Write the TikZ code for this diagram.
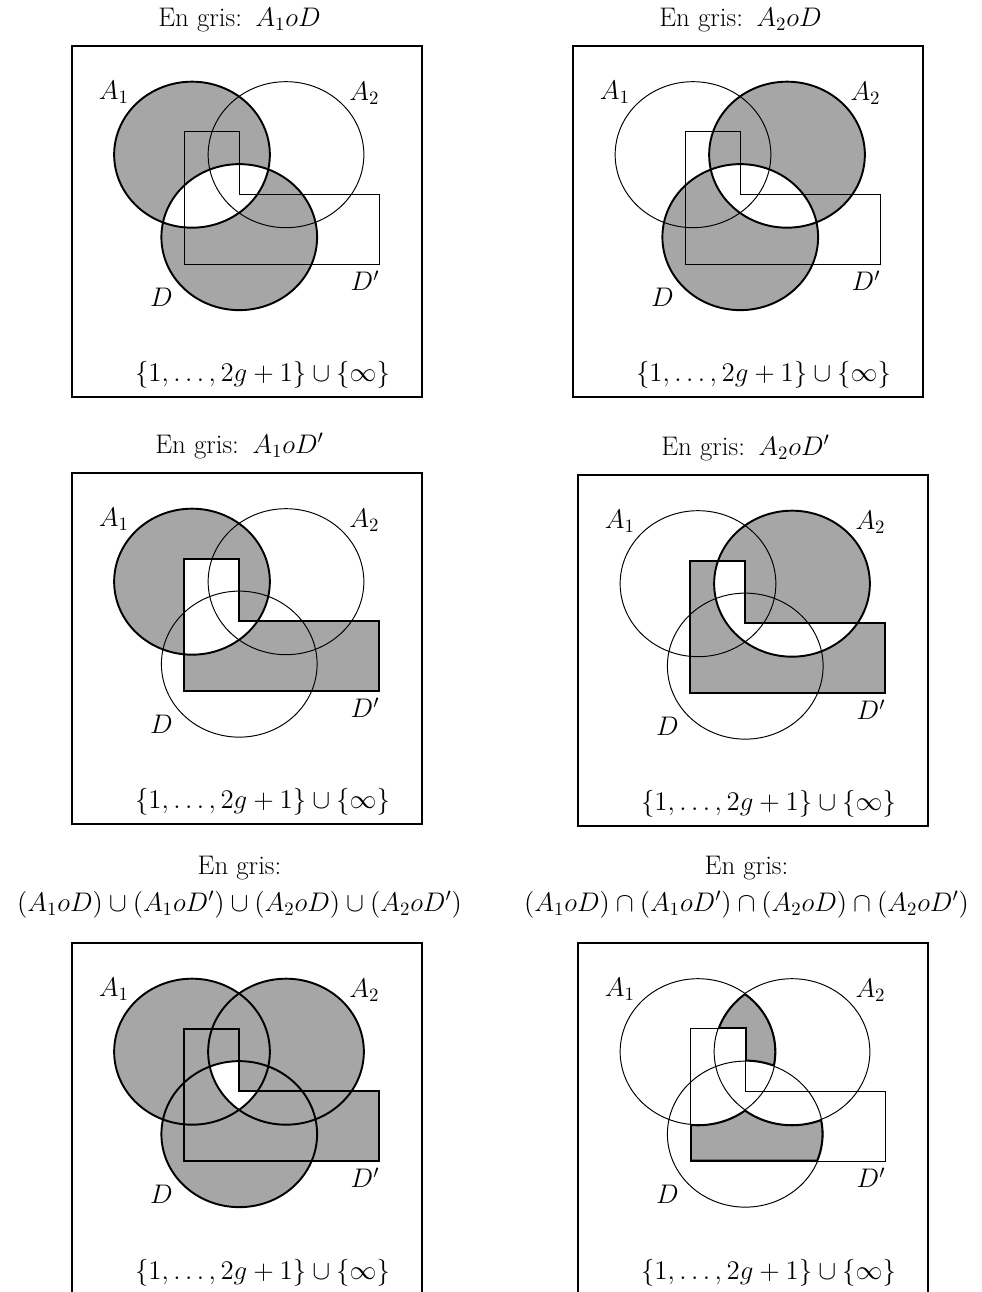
\RequirePackage{fix-cm}
\documentclass[tikz,border=0pt]{standalone}
\usepackage{amsmath}
\usepackage{tikz}
\usetikzlibrary{calc}
\definecolor{shadegray}{HTML}{A6A6A6}
\definecolor{linegray}{HTML}{000000}
\tikzset{
  panelframe/.style={draw=linegray, line width=0.7pt},
  setline/.style={draw=linegray, line width=0.55pt},
  boundline/.style={draw=linegray, line width=1.1pt},
  bandline/.style={draw=linegray, line width=1.8pt},
  grayfill/.style={fill=shadegray},
  lbl/.style={font=\fontsize{15.3}{18.5}\selectfont, inner sep=0pt, anchor=base},
  headtwo/.style={font=\fontsize{15.3}{18.5}\selectfont, inner sep=0pt, anchor=south, align=center}
}
% the four sets, in panel coordinates
\newcommand{\setAone}{(2.40,4.846) ellipse [x radius=1.557, y radius=1.46]}
\newcommand{\setAtwo}{(4.28,4.846) ellipse [x radius=1.557, y radius=1.46]}
\newcommand{\setD}{(3.345,3.197) ellipse [x radius=1.557, y radius=1.46]}
\newcommand{\setDp}{(2.245,5.306) -- (3.345,5.306) -- (3.345,4.054) -- (6.146,4.054) -- (6.146,2.654) -- (2.245,2.654) -- cycle}

\begin{document}
\begin{tikzpicture}[x=1cm,y=1cm]
  \path[use as bounding box] (0,0) rectangle (19.64,25.84);

  % panel 1: A1 o D
  \begin{scope}[shift={(1.44,17.90)}]
    \fill[grayfill, even odd rule] \setAone \setD;
    \draw[setline] \setAtwo;
    \draw[setline] \setDp;
    \draw[boundline] \setAone;
    \draw[boundline] \setD;
    \draw[panelframe] (0,0) rectangle (7,7.02);
    \node[lbl] (p1head) at (3.35,7.41) {En gris:\enspace $A_1oD$};
    \node[lbl] (p1a1) at (0.84,5.95) {$A_1$};
    \node[lbl] (p1a2) at (5.85,5.93) {$A_2$};
    \node[lbl] (p1d) at (1.79,1.81) {$D$};
    \node[lbl] (p1dp) at (5.86,2.12) {$D'$};
    \node[lbl] (p1all) at (3.81,0.30) {$\{1,\ldots,2g+1\}\cup\{\infty\}$};
  \end{scope}

  % panel 2: A2 o D
  \begin{scope}[shift={(11.46,17.90)}]
    \fill[grayfill, even odd rule] \setAtwo \setD;
    \draw[setline] \setAone;
    \draw[setline] \setDp;
    \draw[boundline] \setAtwo;
    \draw[boundline] \setD;
    \draw[panelframe] (0,0) rectangle (7,7.02);
    \node[lbl] (p2head) at (3.35,7.41) {En gris:\enspace $A_2oD$};
    \node[lbl] (p2a1) at (0.84,5.95) {$A_1$};
    \node[lbl] (p2a2) at (5.85,5.93) {$A_2$};
    \node[lbl] (p2d) at (1.79,1.81) {$D$};
    \node[lbl] (p2dp) at (5.86,2.12) {$D'$};
    \node[lbl] (p2all) at (3.81,0.30) {$\{1,\ldots,2g+1\}\cup\{\infty\}$};
  \end{scope}

  % panel 3: A1 o D'
  \begin{scope}[shift={(1.44,9.36)}]
    \fill[grayfill, even odd rule] \setAone \setDp;
    \draw[setline] \setAtwo;
    \draw[setline] \setD;
    \draw[boundline] \setAone;
    \draw[boundline] \setDp;
    \draw[panelframe] (0,0) rectangle (7,7.02);
    \node[lbl] (p3head) at (3.35,7.41) {En gris:\enspace $A_1oD'$};
    \node[lbl] (p3a1) at (0.84,5.95) {$A_1$};
    \node[lbl] (p3a2) at (5.85,5.93) {$A_2$};
    \node[lbl] (p3d) at (1.79,1.81) {$D$};
    \node[lbl] (p3dp) at (5.86,2.12) {$D'$};
    \node[lbl] (p3all) at (3.81,0.30) {$\{1,\ldots,2g+1\}\cup\{\infty\}$};
  \end{scope}

  % panel 4: A2 o D'
  \begin{scope}[shift={(11.56,9.32)}]
    \fill[grayfill, even odd rule] \setAtwo \setDp;
    \draw[setline] \setAone;
    \draw[setline] \setD;
    \draw[boundline] \setAtwo;
    \draw[boundline] \setDp;
    \draw[panelframe] (0,0) rectangle (7,7.02);
    \node[lbl] (p4head) at (3.35,7.41) {En gris:\enspace $A_2oD'$};
    \node[lbl] (p4a1) at (0.84,5.95) {$A_1$};
    \node[lbl] (p4a2) at (5.85,5.93) {$A_2$};
    \node[lbl] (p4d) at (1.79,1.81) {$D$};
    \node[lbl] (p4dp) at (5.86,2.12) {$D'$};
    \node[lbl] (p4all) at (3.81,0.30) {$\{1,\ldots,2g+1\}\cup\{\infty\}$};
  \end{scope}

  % panel 5: union
  \begin{scope}[shift={(1.44,-0.04)}]
    \fill[grayfill] \setAone;
    \fill[grayfill] \setAtwo;
    \fill[grayfill] \setD;
    \fill[grayfill] \setDp;
    \begin{scope}
      \clip \setAone; \clip \setAtwo; \clip \setD; \clip \setDp;
      \fill[white] (0,0) rectangle (7,7);
    \end{scope}
    \draw[boundline] \setAone;
    \draw[boundline] \setAtwo;
    \draw[boundline] \setD;
    \draw[boundline] \setDp;
    \draw[panelframe] (0,0) rectangle (7,7.02);
    \node[headtwo] (p5head) at (3.35,7.51)
      {En gris:\\[2.5pt]$(A_1oD)\cup(A_1oD')\cup(A_2oD)\cup(A_2oD')$};
    \node[lbl] (p5a1) at (0.84,5.95) {$A_1$};
    \node[lbl] (p5a2) at (5.85,5.93) {$A_2$};
    \node[lbl] (p5d) at (1.79,1.81) {$D$};
    \node[lbl] (p5dp) at (5.86,2.12) {$D'$};
    \node[lbl] (p5all) at (3.81,0.30) {$\{1,\ldots,2g+1\}\cup\{\infty\}$};
  \end{scope}

  % panel 6: intersection
  \begin{scope}[shift={(11.56,-0.04)}]
    \begin{scope}
      \clip \setAone; \clip \setAtwo;
      \fill[grayfill] (0,0) rectangle (7,7);
      \draw[bandline] \setAone \setAtwo \setD \setDp;
      \fill[white] \setD;
      \fill[white] \setDp;
    \end{scope}
    \begin{scope}
      \clip \setD; \clip \setDp;
      \fill[grayfill] (0,0) rectangle (7,7);
      \draw[bandline] \setAone \setAtwo \setD \setDp;
      \fill[white] \setAone;
      \fill[white] \setAtwo;
    \end{scope}
    \draw[setline] \setAone;
    \draw[setline] \setAtwo;
    \draw[setline] \setD;
    \draw[setline] \setDp;
    \draw[panelframe] (0,0) rectangle (7,7.02);
    \node[headtwo] (p6head) at (3.37,7.51)
      {En gris:\\[2.5pt]$(A_1oD)\cap(A_1oD')\cap(A_2oD)\cap(A_2oD')$};
    \node[lbl] (p6a1) at (0.84,5.95) {$A_1$};
    \node[lbl] (p6a2) at (5.85,5.93) {$A_2$};
    \node[lbl] (p6d) at (1.79,1.81) {$D$};
    \node[lbl] (p6dp) at (5.86,2.12) {$D'$};
    \node[lbl] (p6all) at (3.81,0.30) {$\{1,\ldots,2g+1\}\cup\{\infty\}$};
  \end{scope}
\end{tikzpicture}
\end{document}
